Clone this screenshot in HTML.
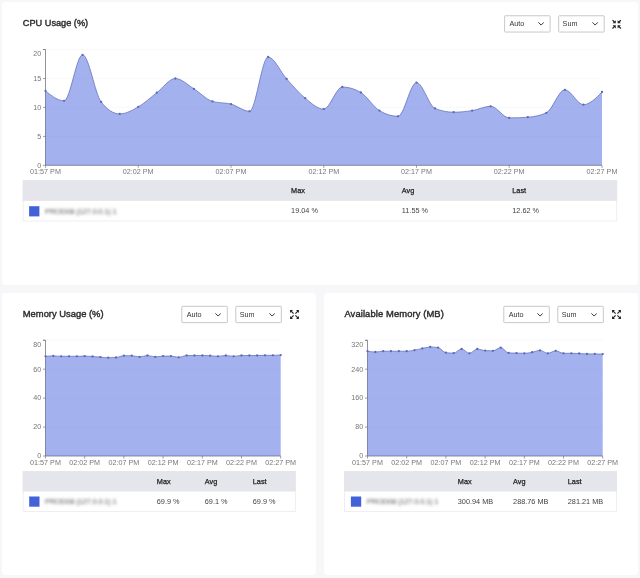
<!DOCTYPE html>
<html><head><meta charset="utf-8"><title>Metrics</title>
<style>
html,body{margin:0;padding:0}
body{width:640px;height:578px;background:#f7f7fa;position:relative;overflow:hidden;font-family:"Liberation Sans",sans-serif}
.card{position:absolute;background:#fff;border-radius:3px}
.ttl{position:absolute;font-size:9.2px;line-height:12px;color:#2b2b2b;white-space:nowrap;-webkit-text-stroke:0.4px #2b2b2b}
.sel{position:absolute;box-sizing:border-box;width:46px;height:17.4px;border:1px solid transparent;font-size:7.2px;line-height:15.6px;padding-left:4.4px;color:#333}
.chev{position:absolute;right:5.2px;top:6.1px}
svg.main{position:absolute;left:0;top:0}
.tk{font-size:8px;fill:#777;font-family:"Liberation Sans",sans-serif}
.hl{position:absolute;font-size:7.3px;line-height:10px;color:#222;-webkit-text-stroke:0.25px #222;white-space:nowrap}
.vl{position:absolute;font-size:7.3px;line-height:10px;color:#444;white-space:nowrap}
.nm{position:absolute;font-size:7.7px;line-height:10px;color:#5a5a5a;letter-spacing:-0.25px;filter:blur(1.6px);white-space:nowrap}
</style></head><body>
<div class="card" style="left:2px;top:2px;width:636px;height:283px"></div>
<div class="card" style="left:2px;top:293px;width:314px;height:282px"></div>
<div class="card" style="left:324px;top:293px;width:314px;height:282px"></div>
<div class="ttl" style="left:22.8px;top:17.2px">CPU Usage (%)</div>
<div class="ttl" style="left:22.8px;top:307.8px;font-size:9.4px">Memory Usage (%)</div>
<div class="ttl" style="left:344.4px;top:307.8px;font-size:9.4px;letter-spacing:0.11px">Available Memory (MB)</div>
<svg class="main" width="640" height="578" viewBox="0 0 640 578">
<rect x="504.60" y="15.75" width="45.5" height="16.3" rx="0.6" fill="#fff" stroke="#c8c8c8" stroke-width="1"/>
<rect x="558.70" y="15.75" width="45.5" height="16.3" rx="0.6" fill="#fff" stroke="#c8c8c8" stroke-width="1"/>
<rect x="181.80" y="306.30" width="45.5" height="16.3" rx="0.6" fill="#fff" stroke="#c8c8c8" stroke-width="1"/>
<rect x="235.80" y="306.30" width="45.5" height="16.3" rx="0.6" fill="#fff" stroke="#c8c8c8" stroke-width="1"/>
<rect x="503.80" y="306.30" width="45.5" height="16.3" rx="0.6" fill="#fff" stroke="#c8c8c8" stroke-width="1"/>
<rect x="557.80" y="306.30" width="45.5" height="16.3" rx="0.6" fill="#fff" stroke="#c8c8c8" stroke-width="1"/>
<line x1="45.5" y1="49.5" x2="602.0" y2="49.5" stroke="#f6f6f6" stroke-width="0.7"/>
<line x1="45.5" y1="78.5" x2="602.0" y2="78.5" stroke="#f6f6f6" stroke-width="0.7"/>
<line x1="45.5" y1="107.4" x2="602.0" y2="107.4" stroke="#f6f6f6" stroke-width="0.7"/>
<line x1="45.5" y1="136.4" x2="602.0" y2="136.4" stroke="#f6f6f6" stroke-width="0.7"/>
<path d="M43.0,49.5 H45.5 V165.3 H602.0" fill="none" stroke="#777" stroke-width="0.8"/>
<path d="M45.50,90.90C51.68,95.85,57.87,100.80,64.05,100.80C70.23,100.80,76.42,54.80,82.60,54.80C88.78,54.80,94.97,93.90,101.15,101.90C107.33,109.90,113.52,113.90,119.70,113.90C125.88,113.90,132.07,110.43,138.25,106.90C144.43,103.37,150.62,97.43,156.80,92.70C162.98,87.97,169.17,78.50,175.35,78.50C181.53,78.50,187.72,84.98,193.90,88.80C200.08,92.62,206.27,99.60,212.45,101.40C218.63,103.20,224.82,102.45,231.00,104.10C237.18,105.75,243.37,111.30,249.55,111.30C255.73,111.30,261.92,57.00,268.10,57.00C274.28,57.00,280.47,72.03,286.65,78.90C292.83,85.77,299.02,93.17,305.20,98.20C311.38,103.23,317.57,109.10,323.75,109.10C329.93,109.10,336.12,87.00,342.30,87.00C348.48,87.00,354.67,88.83,360.85,92.50C367.03,96.17,373.22,106.80,379.40,110.60C385.58,114.40,391.77,116.30,397.95,116.30C404.13,116.30,410.32,82.60,416.50,82.60C422.68,82.60,428.87,105.87,435.05,108.40C441.23,110.93,447.42,112.20,453.60,112.20C459.78,112.20,465.97,111.58,472.15,110.60C478.33,109.62,484.52,106.30,490.70,106.30C496.88,106.30,503.07,117.90,509.25,117.90C515.43,117.90,521.62,117.67,527.80,117.20C533.98,116.73,540.17,115.73,546.35,112.80C552.53,109.87,558.72,89.80,564.90,89.80C571.08,89.80,577.27,104.70,583.45,104.70C589.63,104.70,595.82,98.35,602.00,92.00L602.00,165.30 L45.50,165.30 Z" fill="#4763df" fill-opacity="0.5" stroke="none"/>
<path d="M45.50,90.90C51.68,95.85,57.87,100.80,64.05,100.80C70.23,100.80,76.42,54.80,82.60,54.80C88.78,54.80,94.97,93.90,101.15,101.90C107.33,109.90,113.52,113.90,119.70,113.90C125.88,113.90,132.07,110.43,138.25,106.90C144.43,103.37,150.62,97.43,156.80,92.70C162.98,87.97,169.17,78.50,175.35,78.50C181.53,78.50,187.72,84.98,193.90,88.80C200.08,92.62,206.27,99.60,212.45,101.40C218.63,103.20,224.82,102.45,231.00,104.10C237.18,105.75,243.37,111.30,249.55,111.30C255.73,111.30,261.92,57.00,268.10,57.00C274.28,57.00,280.47,72.03,286.65,78.90C292.83,85.77,299.02,93.17,305.20,98.20C311.38,103.23,317.57,109.10,323.75,109.10C329.93,109.10,336.12,87.00,342.30,87.00C348.48,87.00,354.67,88.83,360.85,92.50C367.03,96.17,373.22,106.80,379.40,110.60C385.58,114.40,391.77,116.30,397.95,116.30C404.13,116.30,410.32,82.60,416.50,82.60C422.68,82.60,428.87,105.87,435.05,108.40C441.23,110.93,447.42,112.20,453.60,112.20C459.78,112.20,465.97,111.58,472.15,110.60C478.33,109.62,484.52,106.30,490.70,106.30C496.88,106.30,503.07,117.90,509.25,117.90C515.43,117.90,521.62,117.67,527.80,117.20C533.98,116.73,540.17,115.73,546.35,112.80C552.53,109.87,558.72,89.80,564.90,89.80C571.08,89.80,577.27,104.70,583.45,104.70C589.63,104.70,595.82,98.35,602.00,92.00" fill="none" stroke="#5c69b4" stroke-width="0.7"/>
<circle cx="45.50" cy="90.90" r="1.15" fill="#5c69b4"/>
<circle cx="64.05" cy="100.80" r="1.15" fill="#5c69b4"/>
<circle cx="82.60" cy="54.80" r="1.15" fill="#5c69b4"/>
<circle cx="101.15" cy="101.90" r="1.15" fill="#5c69b4"/>
<circle cx="119.70" cy="113.90" r="1.15" fill="#5c69b4"/>
<circle cx="138.25" cy="106.90" r="1.15" fill="#5c69b4"/>
<circle cx="156.80" cy="92.70" r="1.15" fill="#5c69b4"/>
<circle cx="175.35" cy="78.50" r="1.15" fill="#5c69b4"/>
<circle cx="193.90" cy="88.80" r="1.15" fill="#5c69b4"/>
<circle cx="212.45" cy="101.40" r="1.15" fill="#5c69b4"/>
<circle cx="231.00" cy="104.10" r="1.15" fill="#5c69b4"/>
<circle cx="249.55" cy="111.30" r="1.15" fill="#5c69b4"/>
<circle cx="268.10" cy="57.00" r="1.15" fill="#5c69b4"/>
<circle cx="286.65" cy="78.90" r="1.15" fill="#5c69b4"/>
<circle cx="305.20" cy="98.20" r="1.15" fill="#5c69b4"/>
<circle cx="323.75" cy="109.10" r="1.15" fill="#5c69b4"/>
<circle cx="342.30" cy="87.00" r="1.15" fill="#5c69b4"/>
<circle cx="360.85" cy="92.50" r="1.15" fill="#5c69b4"/>
<circle cx="379.40" cy="110.60" r="1.15" fill="#5c69b4"/>
<circle cx="397.95" cy="116.30" r="1.15" fill="#5c69b4"/>
<circle cx="416.50" cy="82.60" r="1.15" fill="#5c69b4"/>
<circle cx="435.05" cy="108.40" r="1.15" fill="#5c69b4"/>
<circle cx="453.60" cy="112.20" r="1.15" fill="#5c69b4"/>
<circle cx="472.15" cy="110.60" r="1.15" fill="#5c69b4"/>
<circle cx="490.70" cy="106.30" r="1.15" fill="#5c69b4"/>
<circle cx="509.25" cy="117.90" r="1.15" fill="#5c69b4"/>
<circle cx="527.80" cy="117.20" r="1.15" fill="#5c69b4"/>
<circle cx="546.35" cy="112.80" r="1.15" fill="#5c69b4"/>
<circle cx="564.90" cy="89.80" r="1.15" fill="#5c69b4"/>
<circle cx="583.45" cy="104.70" r="1.15" fill="#5c69b4"/>
<circle cx="602.00" cy="92.00" r="1.15" fill="#5c69b4"/>
<line x1="43.0" y1="49.5" x2="45.5" y2="49.5" stroke="#777" stroke-width="0.7"/>
<text transform="translate(41.3,56.1) scale(0.9,1)" text-anchor="end" class="tk">20</text>
<line x1="43.0" y1="78.5" x2="45.5" y2="78.5" stroke="#777" stroke-width="0.7"/>
<text transform="translate(41.3,80.8) scale(0.9,1)" text-anchor="end" class="tk">15</text>
<line x1="43.0" y1="107.4" x2="45.5" y2="107.4" stroke="#777" stroke-width="0.7"/>
<text transform="translate(41.3,109.7) scale(0.9,1)" text-anchor="end" class="tk">10</text>
<line x1="43.0" y1="136.4" x2="45.5" y2="136.4" stroke="#777" stroke-width="0.7"/>
<text transform="translate(41.3,138.7) scale(0.9,1)" text-anchor="end" class="tk">5</text>
<line x1="43.0" y1="165.3" x2="45.5" y2="165.3" stroke="#777" stroke-width="0.7"/>
<text transform="translate(41.3,167.6) scale(0.9,1)" text-anchor="end" class="tk">0</text>
<line x1="45.5" y1="165.3" x2="45.5" y2="167.8" stroke="#777" stroke-width="0.7"/>
<text transform="translate(45.5,174.4) scale(0.9,1)" text-anchor="middle" class="tk">01:57 PM</text>
<line x1="138.2" y1="165.3" x2="138.2" y2="167.8" stroke="#777" stroke-width="0.7"/>
<text transform="translate(138.2,174.4) scale(0.9,1)" text-anchor="middle" class="tk">02:02 PM</text>
<line x1="231.0" y1="165.3" x2="231.0" y2="167.8" stroke="#777" stroke-width="0.7"/>
<text transform="translate(231.0,174.4) scale(0.9,1)" text-anchor="middle" class="tk">02:07 PM</text>
<line x1="323.8" y1="165.3" x2="323.8" y2="167.8" stroke="#777" stroke-width="0.7"/>
<text transform="translate(323.8,174.4) scale(0.9,1)" text-anchor="middle" class="tk">02:12 PM</text>
<line x1="416.5" y1="165.3" x2="416.5" y2="167.8" stroke="#777" stroke-width="0.7"/>
<text transform="translate(416.5,174.4) scale(0.9,1)" text-anchor="middle" class="tk">02:17 PM</text>
<line x1="509.2" y1="165.3" x2="509.2" y2="167.8" stroke="#777" stroke-width="0.7"/>
<text transform="translate(509.2,174.4) scale(0.9,1)" text-anchor="middle" class="tk">02:22 PM</text>
<line x1="602.0" y1="165.3" x2="602.0" y2="167.8" stroke="#777" stroke-width="0.7"/>
<text transform="translate(602.0,174.4) scale(0.9,1)" text-anchor="middle" class="tk">02:27 PM</text>
<line x1="45.5" y1="340.3" x2="280.7" y2="340.3" stroke="#f6f6f6" stroke-width="0.7"/>
<line x1="45.5" y1="369.2" x2="280.7" y2="369.2" stroke="#f6f6f6" stroke-width="0.7"/>
<line x1="45.5" y1="398.1" x2="280.7" y2="398.1" stroke="#f6f6f6" stroke-width="0.7"/>
<line x1="45.5" y1="427.1" x2="280.7" y2="427.1" stroke="#f6f6f6" stroke-width="0.7"/>
<path d="M43.0,340.3 H45.5 V456.0 H280.7" fill="none" stroke="#777" stroke-width="0.8"/>
<path d="M45.50,356.30C48.11,356.10,50.73,355.90,53.34,355.90C55.95,355.90,58.57,356.30,61.18,356.30C63.79,356.30,66.41,356.30,69.02,356.30C71.63,356.30,74.25,356.30,76.86,356.30C79.47,356.30,82.09,356.10,84.70,356.10C87.31,356.10,89.93,356.33,92.54,356.50C95.15,356.67,97.77,356.90,100.38,357.10C102.99,357.30,105.61,357.70,108.22,357.70C110.83,357.70,113.45,357.63,116.06,357.50C118.67,357.37,121.29,355.70,123.90,355.70C126.51,355.70,129.13,355.70,131.74,355.70C134.35,355.70,136.97,356.90,139.58,356.90C142.19,356.90,144.81,355.50,147.42,355.50C150.03,355.50,152.65,356.90,155.26,356.90C157.87,356.90,160.49,356.10,163.10,356.10C165.71,356.10,168.33,356.10,170.94,356.10C173.55,356.10,176.17,357.30,178.78,357.30C181.39,357.30,184.01,355.50,186.62,355.50C189.23,355.50,191.85,355.50,194.46,355.50C197.07,355.50,199.69,355.50,202.30,355.50C204.91,355.50,207.53,355.57,210.14,355.70C212.75,355.83,215.37,356.30,217.98,356.30C220.59,356.30,223.21,355.50,225.82,355.50C228.43,355.50,231.05,356.30,233.66,356.30C236.27,356.30,238.89,355.50,241.50,355.50C244.11,355.50,246.73,355.50,249.34,355.50C251.95,355.50,254.57,355.50,257.18,355.50C259.79,355.50,262.41,355.30,265.02,355.30C267.63,355.30,270.25,355.30,272.86,355.30C275.47,355.30,278.09,355.20,280.70,355.10L280.70,456.00 L45.50,456.00 Z" fill="#4763df" fill-opacity="0.5" stroke="none"/>
<path d="M45.50,356.30C48.11,356.10,50.73,355.90,53.34,355.90C55.95,355.90,58.57,356.30,61.18,356.30C63.79,356.30,66.41,356.30,69.02,356.30C71.63,356.30,74.25,356.30,76.86,356.30C79.47,356.30,82.09,356.10,84.70,356.10C87.31,356.10,89.93,356.33,92.54,356.50C95.15,356.67,97.77,356.90,100.38,357.10C102.99,357.30,105.61,357.70,108.22,357.70C110.83,357.70,113.45,357.63,116.06,357.50C118.67,357.37,121.29,355.70,123.90,355.70C126.51,355.70,129.13,355.70,131.74,355.70C134.35,355.70,136.97,356.90,139.58,356.90C142.19,356.90,144.81,355.50,147.42,355.50C150.03,355.50,152.65,356.90,155.26,356.90C157.87,356.90,160.49,356.10,163.10,356.10C165.71,356.10,168.33,356.10,170.94,356.10C173.55,356.10,176.17,357.30,178.78,357.30C181.39,357.30,184.01,355.50,186.62,355.50C189.23,355.50,191.85,355.50,194.46,355.50C197.07,355.50,199.69,355.50,202.30,355.50C204.91,355.50,207.53,355.57,210.14,355.70C212.75,355.83,215.37,356.30,217.98,356.30C220.59,356.30,223.21,355.50,225.82,355.50C228.43,355.50,231.05,356.30,233.66,356.30C236.27,356.30,238.89,355.50,241.50,355.50C244.11,355.50,246.73,355.50,249.34,355.50C251.95,355.50,254.57,355.50,257.18,355.50C259.79,355.50,262.41,355.30,265.02,355.30C267.63,355.30,270.25,355.30,272.86,355.30C275.47,355.30,278.09,355.20,280.70,355.10" fill="none" stroke="#5c69b4" stroke-width="0.7"/>
<circle cx="45.50" cy="356.30" r="1.15" fill="#5c69b4"/>
<circle cx="53.34" cy="355.90" r="1.15" fill="#5c69b4"/>
<circle cx="61.18" cy="356.30" r="1.15" fill="#5c69b4"/>
<circle cx="69.02" cy="356.30" r="1.15" fill="#5c69b4"/>
<circle cx="76.86" cy="356.30" r="1.15" fill="#5c69b4"/>
<circle cx="84.70" cy="356.10" r="1.15" fill="#5c69b4"/>
<circle cx="92.54" cy="356.50" r="1.15" fill="#5c69b4"/>
<circle cx="100.38" cy="357.10" r="1.15" fill="#5c69b4"/>
<circle cx="108.22" cy="357.70" r="1.15" fill="#5c69b4"/>
<circle cx="116.06" cy="357.50" r="1.15" fill="#5c69b4"/>
<circle cx="123.90" cy="355.70" r="1.15" fill="#5c69b4"/>
<circle cx="131.74" cy="355.70" r="1.15" fill="#5c69b4"/>
<circle cx="139.58" cy="356.90" r="1.15" fill="#5c69b4"/>
<circle cx="147.42" cy="355.50" r="1.15" fill="#5c69b4"/>
<circle cx="155.26" cy="356.90" r="1.15" fill="#5c69b4"/>
<circle cx="163.10" cy="356.10" r="1.15" fill="#5c69b4"/>
<circle cx="170.94" cy="356.10" r="1.15" fill="#5c69b4"/>
<circle cx="178.78" cy="357.30" r="1.15" fill="#5c69b4"/>
<circle cx="186.62" cy="355.50" r="1.15" fill="#5c69b4"/>
<circle cx="194.46" cy="355.50" r="1.15" fill="#5c69b4"/>
<circle cx="202.30" cy="355.50" r="1.15" fill="#5c69b4"/>
<circle cx="210.14" cy="355.70" r="1.15" fill="#5c69b4"/>
<circle cx="217.98" cy="356.30" r="1.15" fill="#5c69b4"/>
<circle cx="225.82" cy="355.50" r="1.15" fill="#5c69b4"/>
<circle cx="233.66" cy="356.30" r="1.15" fill="#5c69b4"/>
<circle cx="241.50" cy="355.50" r="1.15" fill="#5c69b4"/>
<circle cx="249.34" cy="355.50" r="1.15" fill="#5c69b4"/>
<circle cx="257.18" cy="355.50" r="1.15" fill="#5c69b4"/>
<circle cx="265.02" cy="355.30" r="1.15" fill="#5c69b4"/>
<circle cx="272.86" cy="355.30" r="1.15" fill="#5c69b4"/>
<circle cx="280.70" cy="355.10" r="1.15" fill="#5c69b4"/>
<line x1="43.0" y1="340.3" x2="45.5" y2="340.3" stroke="#777" stroke-width="0.7"/>
<text transform="translate(41.3,346.9) scale(0.9,1)" text-anchor="end" class="tk">80</text>
<line x1="43.0" y1="369.2" x2="45.5" y2="369.2" stroke="#777" stroke-width="0.7"/>
<text transform="translate(41.3,371.5) scale(0.9,1)" text-anchor="end" class="tk">60</text>
<line x1="43.0" y1="398.1" x2="45.5" y2="398.1" stroke="#777" stroke-width="0.7"/>
<text transform="translate(41.3,400.4) scale(0.9,1)" text-anchor="end" class="tk">40</text>
<line x1="43.0" y1="427.1" x2="45.5" y2="427.1" stroke="#777" stroke-width="0.7"/>
<text transform="translate(41.3,429.4) scale(0.9,1)" text-anchor="end" class="tk">20</text>
<line x1="43.0" y1="456.0" x2="45.5" y2="456.0" stroke="#777" stroke-width="0.7"/>
<text transform="translate(41.3,458.3) scale(0.9,1)" text-anchor="end" class="tk">0</text>
<line x1="45.5" y1="456.0" x2="45.5" y2="458.5" stroke="#777" stroke-width="0.7"/>
<text transform="translate(45.5,465.1) scale(0.9,1)" text-anchor="middle" class="tk">01:57 PM</text>
<line x1="84.7" y1="456.0" x2="84.7" y2="458.5" stroke="#777" stroke-width="0.7"/>
<text transform="translate(84.7,465.1) scale(0.9,1)" text-anchor="middle" class="tk">02:02 PM</text>
<line x1="123.9" y1="456.0" x2="123.9" y2="458.5" stroke="#777" stroke-width="0.7"/>
<text transform="translate(123.9,465.1) scale(0.9,1)" text-anchor="middle" class="tk">02:07 PM</text>
<line x1="163.1" y1="456.0" x2="163.1" y2="458.5" stroke="#777" stroke-width="0.7"/>
<text transform="translate(163.1,465.1) scale(0.9,1)" text-anchor="middle" class="tk">02:12 PM</text>
<line x1="202.3" y1="456.0" x2="202.3" y2="458.5" stroke="#777" stroke-width="0.7"/>
<text transform="translate(202.3,465.1) scale(0.9,1)" text-anchor="middle" class="tk">02:17 PM</text>
<line x1="241.5" y1="456.0" x2="241.5" y2="458.5" stroke="#777" stroke-width="0.7"/>
<text transform="translate(241.5,465.1) scale(0.9,1)" text-anchor="middle" class="tk">02:22 PM</text>
<line x1="280.7" y1="456.0" x2="280.7" y2="458.5" stroke="#777" stroke-width="0.7"/>
<text transform="translate(280.7,465.1) scale(0.9,1)" text-anchor="middle" class="tk">02:27 PM</text>
<line x1="367.5" y1="340.3" x2="602.7" y2="340.3" stroke="#f6f6f6" stroke-width="0.7"/>
<line x1="367.5" y1="369.2" x2="602.7" y2="369.2" stroke="#f6f6f6" stroke-width="0.7"/>
<line x1="367.5" y1="398.1" x2="602.7" y2="398.1" stroke="#f6f6f6" stroke-width="0.7"/>
<line x1="367.5" y1="427.1" x2="602.7" y2="427.1" stroke="#f6f6f6" stroke-width="0.7"/>
<path d="M365.0,340.3 H367.5 V456.0 H602.7" fill="none" stroke="#777" stroke-width="0.8"/>
<path d="M367.50,351.20C370.11,351.60,372.73,352.00,375.34,352.00C377.95,352.00,380.57,351.20,383.18,351.20C385.79,351.20,388.41,351.20,391.02,351.20C393.63,351.20,396.25,351.20,398.86,351.20C401.47,351.20,404.09,351.20,406.70,351.20C409.31,351.20,411.93,350.67,414.54,350.20C417.15,349.73,419.77,348.93,422.38,348.40C424.99,347.87,427.61,347.00,430.22,347.00C432.83,347.00,435.45,347.20,438.06,347.60C440.67,348.00,443.29,352.43,445.90,352.70C448.51,352.97,451.13,353.10,453.74,353.10C456.35,353.10,458.97,349.00,461.58,349.00C464.19,349.00,466.81,353.30,469.42,353.30C472.03,353.30,474.65,349.00,477.26,349.00C479.87,349.00,482.49,350.47,485.10,350.60C487.71,350.73,490.33,350.80,492.94,350.80C495.55,350.80,498.17,347.60,500.78,347.60C503.39,347.60,506.01,352.77,508.62,352.90C511.23,353.03,513.85,353.03,516.46,353.10C519.07,353.17,521.69,353.30,524.30,353.30C526.91,353.30,529.53,352.73,532.14,352.25C534.75,351.77,537.37,350.40,539.98,350.40C542.59,350.40,545.21,353.30,547.82,353.30C550.43,353.30,553.05,350.80,555.66,350.80C558.27,350.80,560.89,353.30,563.50,353.30C566.11,353.30,568.73,353.30,571.34,353.30C573.95,353.30,576.57,353.40,579.18,353.50C581.79,353.60,584.41,353.90,587.02,353.90C589.63,353.90,592.25,353.90,594.86,353.90C597.47,353.90,600.09,354.00,602.70,354.10L602.70,456.00 L367.50,456.00 Z" fill="#4763df" fill-opacity="0.5" stroke="none"/>
<path d="M367.50,351.20C370.11,351.60,372.73,352.00,375.34,352.00C377.95,352.00,380.57,351.20,383.18,351.20C385.79,351.20,388.41,351.20,391.02,351.20C393.63,351.20,396.25,351.20,398.86,351.20C401.47,351.20,404.09,351.20,406.70,351.20C409.31,351.20,411.93,350.67,414.54,350.20C417.15,349.73,419.77,348.93,422.38,348.40C424.99,347.87,427.61,347.00,430.22,347.00C432.83,347.00,435.45,347.20,438.06,347.60C440.67,348.00,443.29,352.43,445.90,352.70C448.51,352.97,451.13,353.10,453.74,353.10C456.35,353.10,458.97,349.00,461.58,349.00C464.19,349.00,466.81,353.30,469.42,353.30C472.03,353.30,474.65,349.00,477.26,349.00C479.87,349.00,482.49,350.47,485.10,350.60C487.71,350.73,490.33,350.80,492.94,350.80C495.55,350.80,498.17,347.60,500.78,347.60C503.39,347.60,506.01,352.77,508.62,352.90C511.23,353.03,513.85,353.03,516.46,353.10C519.07,353.17,521.69,353.30,524.30,353.30C526.91,353.30,529.53,352.73,532.14,352.25C534.75,351.77,537.37,350.40,539.98,350.40C542.59,350.40,545.21,353.30,547.82,353.30C550.43,353.30,553.05,350.80,555.66,350.80C558.27,350.80,560.89,353.30,563.50,353.30C566.11,353.30,568.73,353.30,571.34,353.30C573.95,353.30,576.57,353.40,579.18,353.50C581.79,353.60,584.41,353.90,587.02,353.90C589.63,353.90,592.25,353.90,594.86,353.90C597.47,353.90,600.09,354.00,602.70,354.10" fill="none" stroke="#5c69b4" stroke-width="0.7"/>
<circle cx="367.50" cy="351.20" r="1.15" fill="#5c69b4"/>
<circle cx="375.34" cy="352.00" r="1.15" fill="#5c69b4"/>
<circle cx="383.18" cy="351.20" r="1.15" fill="#5c69b4"/>
<circle cx="391.02" cy="351.20" r="1.15" fill="#5c69b4"/>
<circle cx="398.86" cy="351.20" r="1.15" fill="#5c69b4"/>
<circle cx="406.70" cy="351.20" r="1.15" fill="#5c69b4"/>
<circle cx="414.54" cy="350.20" r="1.15" fill="#5c69b4"/>
<circle cx="422.38" cy="348.40" r="1.15" fill="#5c69b4"/>
<circle cx="430.22" cy="347.00" r="1.15" fill="#5c69b4"/>
<circle cx="438.06" cy="347.60" r="1.15" fill="#5c69b4"/>
<circle cx="445.90" cy="352.70" r="1.15" fill="#5c69b4"/>
<circle cx="453.74" cy="353.10" r="1.15" fill="#5c69b4"/>
<circle cx="461.58" cy="349.00" r="1.15" fill="#5c69b4"/>
<circle cx="469.42" cy="353.30" r="1.15" fill="#5c69b4"/>
<circle cx="477.26" cy="349.00" r="1.15" fill="#5c69b4"/>
<circle cx="485.10" cy="350.60" r="1.15" fill="#5c69b4"/>
<circle cx="492.94" cy="350.80" r="1.15" fill="#5c69b4"/>
<circle cx="500.78" cy="347.60" r="1.15" fill="#5c69b4"/>
<circle cx="508.62" cy="352.90" r="1.15" fill="#5c69b4"/>
<circle cx="516.46" cy="353.10" r="1.15" fill="#5c69b4"/>
<circle cx="524.30" cy="353.30" r="1.15" fill="#5c69b4"/>
<circle cx="532.14" cy="352.25" r="1.15" fill="#5c69b4"/>
<circle cx="539.98" cy="350.40" r="1.15" fill="#5c69b4"/>
<circle cx="547.82" cy="353.30" r="1.15" fill="#5c69b4"/>
<circle cx="555.66" cy="350.80" r="1.15" fill="#5c69b4"/>
<circle cx="563.50" cy="353.30" r="1.15" fill="#5c69b4"/>
<circle cx="571.34" cy="353.30" r="1.15" fill="#5c69b4"/>
<circle cx="579.18" cy="353.50" r="1.15" fill="#5c69b4"/>
<circle cx="587.02" cy="353.90" r="1.15" fill="#5c69b4"/>
<circle cx="594.86" cy="353.90" r="1.15" fill="#5c69b4"/>
<circle cx="602.70" cy="354.10" r="1.15" fill="#5c69b4"/>
<line x1="365.0" y1="340.3" x2="367.5" y2="340.3" stroke="#777" stroke-width="0.7"/>
<text transform="translate(363.3,346.9) scale(0.9,1)" text-anchor="end" class="tk">320</text>
<line x1="365.0" y1="369.2" x2="367.5" y2="369.2" stroke="#777" stroke-width="0.7"/>
<text transform="translate(363.3,371.5) scale(0.9,1)" text-anchor="end" class="tk">240</text>
<line x1="365.0" y1="398.1" x2="367.5" y2="398.1" stroke="#777" stroke-width="0.7"/>
<text transform="translate(363.3,400.4) scale(0.9,1)" text-anchor="end" class="tk">160</text>
<line x1="365.0" y1="427.1" x2="367.5" y2="427.1" stroke="#777" stroke-width="0.7"/>
<text transform="translate(363.3,429.4) scale(0.9,1)" text-anchor="end" class="tk">80</text>
<line x1="365.0" y1="456.0" x2="367.5" y2="456.0" stroke="#777" stroke-width="0.7"/>
<text transform="translate(363.3,458.3) scale(0.9,1)" text-anchor="end" class="tk">0</text>
<line x1="367.5" y1="456.0" x2="367.5" y2="458.5" stroke="#777" stroke-width="0.7"/>
<text transform="translate(367.5,465.1) scale(0.9,1)" text-anchor="middle" class="tk">01:57 PM</text>
<line x1="406.7" y1="456.0" x2="406.7" y2="458.5" stroke="#777" stroke-width="0.7"/>
<text transform="translate(406.7,465.1) scale(0.9,1)" text-anchor="middle" class="tk">02:02 PM</text>
<line x1="445.9" y1="456.0" x2="445.9" y2="458.5" stroke="#777" stroke-width="0.7"/>
<text transform="translate(445.9,465.1) scale(0.9,1)" text-anchor="middle" class="tk">02:07 PM</text>
<line x1="485.1" y1="456.0" x2="485.1" y2="458.5" stroke="#777" stroke-width="0.7"/>
<text transform="translate(485.1,465.1) scale(0.9,1)" text-anchor="middle" class="tk">02:12 PM</text>
<line x1="524.3" y1="456.0" x2="524.3" y2="458.5" stroke="#777" stroke-width="0.7"/>
<text transform="translate(524.3,465.1) scale(0.9,1)" text-anchor="middle" class="tk">02:17 PM</text>
<line x1="563.5" y1="456.0" x2="563.5" y2="458.5" stroke="#777" stroke-width="0.7"/>
<text transform="translate(563.5,465.1) scale(0.9,1)" text-anchor="middle" class="tk">02:22 PM</text>
<line x1="602.7" y1="456.0" x2="602.7" y2="458.5" stroke="#777" stroke-width="0.7"/>
<text transform="translate(602.7,465.1) scale(0.9,1)" text-anchor="middle" class="tk">02:27 PM</text>
<rect x="23.15" y="180.60" width="593.55" height="40.40" fill="#fff" stroke="#ebebf0" stroke-width="0.8"/>
<rect x="22.75" y="180.20" width="594.35" height="20.70" fill="#e5e5ec"/>
<rect x="29.10" y="206.20" width="10.3" height="10.2" fill="#4361d8"/>
<rect x="23.15" y="471.50" width="272.20" height="40.00" fill="#fff" stroke="#ebebf0" stroke-width="0.8"/>
<rect x="22.75" y="471.10" width="273.00" height="20.40" fill="#e5e5ec"/>
<rect x="29.20" y="496.50" width="10.3" height="10.2" fill="#4361d8"/>
<rect x="344.50" y="471.50" width="272.10" height="40.00" fill="#fff" stroke="#ebebf0" stroke-width="0.8"/>
<rect x="344.10" y="471.10" width="272.90" height="20.40" fill="#e5e5ec"/>
<rect x="350.90" y="496.50" width="10.3" height="10.2" fill="#4361d8"/>
<g transform="translate(616.70,24.30) scale(-1,-1)"><path d="M4.2,4.2 L1.8,1.8" stroke="#222" stroke-width="1.25" fill="none"/><path d="M0.95,0.95 L4.1,0.95 L0.95,4.1 Z" fill="#222"/></g>
<g transform="translate(616.70,24.30) scale(1,-1)"><path d="M4.2,4.2 L1.8,1.8" stroke="#222" stroke-width="1.25" fill="none"/><path d="M0.95,0.95 L4.1,0.95 L0.95,4.1 Z" fill="#222"/></g>
<g transform="translate(616.70,24.30) scale(-1,1)"><path d="M4.2,4.2 L1.8,1.8" stroke="#222" stroke-width="1.25" fill="none"/><path d="M0.95,0.95 L4.1,0.95 L0.95,4.1 Z" fill="#222"/></g>
<g transform="translate(616.70,24.30) scale(1,1)"><path d="M4.2,4.2 L1.8,1.8" stroke="#222" stroke-width="1.25" fill="none"/><path d="M0.95,0.95 L4.1,0.95 L0.95,4.1 Z" fill="#222"/></g><g transform="translate(294.50,314.50) scale(-1,-1)"><path d="M0.9,0.9 L3.4,3.4" stroke="#222" stroke-width="1.15" fill="none"/><path d="M4.45,4.45 L1.5,4.45 L4.45,1.5 Z" fill="#222"/></g>
<g transform="translate(294.50,314.50) scale(1,-1)"><path d="M0.9,0.9 L3.4,3.4" stroke="#222" stroke-width="1.15" fill="none"/><path d="M4.45,4.45 L1.5,4.45 L4.45,1.5 Z" fill="#222"/></g>
<g transform="translate(294.50,314.50) scale(-1,1)"><path d="M0.9,0.9 L3.4,3.4" stroke="#222" stroke-width="1.15" fill="none"/><path d="M4.45,4.45 L1.5,4.45 L4.45,1.5 Z" fill="#222"/></g>
<g transform="translate(294.50,314.50) scale(1,1)"><path d="M0.9,0.9 L3.4,3.4" stroke="#222" stroke-width="1.15" fill="none"/><path d="M4.45,4.45 L1.5,4.45 L4.45,1.5 Z" fill="#222"/></g><g transform="translate(616.50,314.50) scale(-1,-1)"><path d="M0.9,0.9 L3.4,3.4" stroke="#222" stroke-width="1.15" fill="none"/><path d="M4.45,4.45 L1.5,4.45 L4.45,1.5 Z" fill="#222"/></g>
<g transform="translate(616.50,314.50) scale(1,-1)"><path d="M0.9,0.9 L3.4,3.4" stroke="#222" stroke-width="1.15" fill="none"/><path d="M4.45,4.45 L1.5,4.45 L4.45,1.5 Z" fill="#222"/></g>
<g transform="translate(616.50,314.50) scale(-1,1)"><path d="M0.9,0.9 L3.4,3.4" stroke="#222" stroke-width="1.15" fill="none"/><path d="M4.45,4.45 L1.5,4.45 L4.45,1.5 Z" fill="#222"/></g>
<g transform="translate(616.50,314.50) scale(1,1)"><path d="M0.9,0.9 L3.4,3.4" stroke="#222" stroke-width="1.15" fill="none"/><path d="M4.45,4.45 L1.5,4.45 L4.45,1.5 Z" fill="#222"/></g></svg>
<div class="sel" style="left:504.0px;top:15.3px;padding-left:4.4px">Auto<svg class="chev" viewBox="0 0 10 6" width="6.3" height="3.7"><path d="M1,1 L5,5 L9,1" fill="none" stroke="#333" stroke-width="1.6" stroke-linecap="round" stroke-linejoin="round"/></svg></div><div class="sel" style="left:558.0px;top:15.3px;padding-left:3.6px">Sum<svg class="chev" viewBox="0 0 10 6" width="6.3" height="3.7"><path d="M1,1 L5,5 L9,1" fill="none" stroke="#333" stroke-width="1.6" stroke-linecap="round" stroke-linejoin="round"/></svg></div><div class="sel" style="left:181.3px;top:305.8px;padding-left:4.4px">Auto<svg class="chev" viewBox="0 0 10 6" width="6.3" height="3.7"><path d="M1,1 L5,5 L9,1" fill="none" stroke="#333" stroke-width="1.6" stroke-linecap="round" stroke-linejoin="round"/></svg></div><div class="sel" style="left:235.2px;top:305.8px;padding-left:3.6px">Sum<svg class="chev" viewBox="0 0 10 6" width="6.3" height="3.7"><path d="M1,1 L5,5 L9,1" fill="none" stroke="#333" stroke-width="1.6" stroke-linecap="round" stroke-linejoin="round"/></svg></div><div class="sel" style="left:503.3px;top:305.8px;padding-left:4.4px">Auto<svg class="chev" viewBox="0 0 10 6" width="6.3" height="3.7"><path d="M1,1 L5,5 L9,1" fill="none" stroke="#333" stroke-width="1.6" stroke-linecap="round" stroke-linejoin="round"/></svg></div><div class="sel" style="left:557.2px;top:305.8px;padding-left:3.6px">Sum<svg class="chev" viewBox="0 0 10 6" width="6.3" height="3.7"><path d="M1,1 L5,5 L9,1" fill="none" stroke="#333" stroke-width="1.6" stroke-linecap="round" stroke-linejoin="round"/></svg></div>
<span class="hl" style="left:291.1px;top:186.0px">Max</span>
<span class="vl" style="left:291.1px;top:206.2px">19.04 %</span>
<span class="hl" style="left:401.8px;top:186.0px">Avg</span>
<span class="vl" style="left:401.8px;top:206.2px">11.55 %</span>
<span class="hl" style="left:512.3px;top:186.0px">Last</span>
<span class="vl" style="left:512.3px;top:206.2px">12.62 %</span>
<span class="nm" style="left:45.0px;top:207.0px">PROD08 (127.0.0.1) 1</span>
<span class="hl" style="left:156.8px;top:476.6px">Max</span>
<span class="vl" style="left:156.8px;top:496.8px">69.9 %</span>
<span class="hl" style="left:204.8px;top:476.6px">Avg</span>
<span class="vl" style="left:204.8px;top:496.8px">69.1 %</span>
<span class="hl" style="left:252.8px;top:476.6px">Last</span>
<span class="vl" style="left:252.8px;top:496.8px">69.9 %</span>
<span class="nm" style="left:45.1px;top:497.3px">PROD08 (127.0.0.1) 1</span>
<span class="hl" style="left:457.8px;top:476.6px">Max</span>
<span class="vl" style="left:457.8px;top:496.8px">300.94 MB</span>
<span class="hl" style="left:513.1px;top:476.6px">Avg</span>
<span class="vl" style="left:513.1px;top:496.8px">288.76 MB</span>
<span class="hl" style="left:567.8px;top:476.6px">Last</span>
<span class="vl" style="left:567.8px;top:496.8px">281.21 MB</span>
<span class="nm" style="left:366.8px;top:497.3px">PROD08 (127.0.0.1) 1</span>
</body></html>
